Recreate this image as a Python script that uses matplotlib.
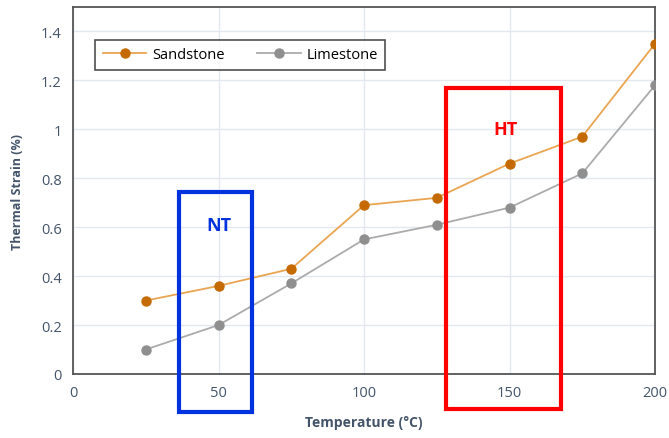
import matplotlib.pyplot as plt
from matplotlib.patches import Rectangle

temperature = [25, 50, 75, 100, 125, 150, 175, 200]
sandstone = [0.30, 0.36, 0.43, 0.69, 0.72, 0.86, 0.97, 1.35]
limestone = [0.10, 0.20, 0.37, 0.55, 0.61, 0.68, 0.82, 1.18]

x_ticks = [0, 50, 100, 150, 200]
y_ticks = [0, 0.2, 0.4, 0.6, 0.8, 1.0, 1.2, 1.4]
y_labels = ["0", "0.2", "0.4", "0.6", "0.8", "1", "1.2", "1.4"]

plt.rcParams['font.family'] = ['Open Sans', 'DejaVu Sans']
label_color = "#44546A"

fig = plt.figure(figsize=(6.69, 4.39), dpi=100)
ax = fig.add_axes([73 / 669, 64 / 439, 582 / 669, 367 / 439])

ax.plot(temperature, sandstone, color="#E9A552", lw=1.3, marker="o", ms=6.5,
        mfc="#C46A00", mec="#C46A00", label="Sandstone", zorder=3)
ax.plot(temperature, limestone, color="#ABABAB", lw=1.3, marker="o", ms=6.5,
        mfc="#8F8F8F", mec="#8F8F8F", label="Limestone", zorder=3)

ax.set_xlim(0, 200)
ax.set_ylim(0, 1.5)
ax.set_xticks(x_ticks)
ax.set_yticks(y_ticks)
ax.set_yticklabels(y_labels)
ax.tick_params(length=0, labelsize=10.5, colors=label_color, pad=8)
ax.grid(True, color="#E3E8F0", lw=1)
ax.set_axisbelow(True)
for s in ax.spines.values():
    s.set_color("#555555")
    s.set_linewidth(1.3)

ax.set_xlabel("Temperature (°C)", fontsize=10, fontweight="bold",
              color=label_color, labelpad=11)
ax.set_ylabel("Thermal Strain (%)", fontsize=9, fontweight="bold",
              color=label_color, labelpad=12)

# temperature range boxes
ax.add_patch(Rectangle((36.4, -0.155), 25.1, 0.9, fill=False, ec="#0033DD",
                       lw=3, clip_on=False, zorder=4))
ax.add_patch(Rectangle((128.2, -0.143), 39.5, 1.31, fill=False, ec="#FF0000",
                       lw=3, clip_on=False, zorder=4))
ax.text(50, 0.61, "NT", color="#0033DD", fontsize=13, fontweight="bold",
        ha="center", va="center")
ax.text(148.5, 1.0, "HT", color="#FF0000", fontsize=13, fontweight="bold",
        ha="center", va="center")

leg = ax.legend(loc="upper left", bbox_to_anchor=(0.026, 0.93), ncol=2,
                frameon=True, fancybox=False, fontsize=10.5, handlelength=3,
                columnspacing=2.2, borderpad=0.5, handletextpad=0.4)
leg.get_frame().set_edgecolor("#222222")
leg.get_frame().set_linewidth(1.2)

fig.savefig("out.png", dpi=100)
